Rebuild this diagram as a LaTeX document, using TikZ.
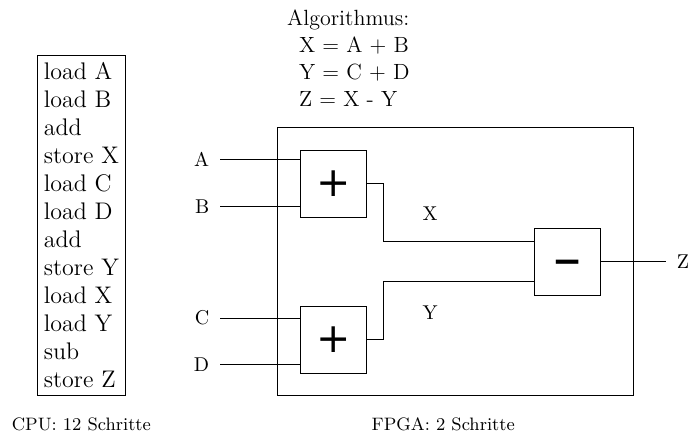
\documentclass[tikz,border=0pt]{standalone}
\usepackage{fontspec}
\newfontfamily\gatefont{DejaVu Sans}
\usetikzlibrary{positioning}

\begin{document}
\begin{tikzpicture}[
    every node/.style={font=\normalsize},
    progbox/.style={rectangle, draw, align=left, inner xsep=3pt, minimum height=5.99cm, font=\large},
    chip/.style={rectangle, draw, minimum width=6.26cm, minimum height=4.71cm},
    gate/.style={rectangle, draw, minimum width=1.17cm, minimum height=1.17cm, inner sep=0pt, font=\gatefont\fontsize{20.5}{22}\selectfont},
    algo/.style={align=left, inner sep=0pt, font=\fontsize{11}{13.5}\selectfont},
    signal/.style={inner sep=3.3pt},
    caption/.style={font=\small},
    wire/.style={thin}
]

\useasboundingbox (0,0) rectangle (12.18,-7.71);

% ============ TOP: Algorithm ============
\node[algo, anchor=north west] (algorithm) at (5.04,-0.16) {Algorithmus:\\
    \hspace*{6pt}X = A + B\\
    \hspace*{6pt}Y = C + D\\
    \hspace*{6pt}Z = X - Y};

% ============ LEFT: CPU program ============
\node[progbox] (cpu) at (1.43,-3.96) {load A\\load B\\add\\store X\\load C\\load D\\add\\store Y\\load X\\load Y\\sub\\store Z};
\node[caption] (cpucap) at (1.43,-7.45) {CPU: 12 Schritte};

% ============ RIGHT: FPGA ============
\node[chip] (fpga) at (8.01,-4.59) {};
\node[caption] (fpgacap) at (7.79,-7.45) {FPGA: 2 Schritte};

\node[gate] (add1) at (5.86,-3.23) {+};
\node[gate] (add2) at (5.86,-5.97) {+};
\node[gate, font=\gatefont\bfseries\fontsize{18}{20}\selectfont, text height=1.2em, text depth=-0.05em] (sub) at (9.97,-4.60) {−};

% Inputs
\coordinate (inA) at (3.87,-2.80);
\coordinate (inB) at (3.87,-3.63);
\coordinate (inC) at (3.87,-5.59);
\coordinate (inD) at (3.87,-6.41);

\node[signal, left=2pt of inA] (A) {A};
\node[signal, left=2pt of inB] (B) {B};
\node[signal, left=2pt of inC] (C) {C};
\node[signal, left=2pt of inD] (D) {D};

% Output
\coordinate (outZ) at ([xshift=1.14cm]sub.east);
\node[signal, right=2pt of outZ] (Z) {Z};

% Intermediate results
\node (labX) at (7.56,-3.76) {X};
\node (labY) at (7.56,-5.50) {Y};

% ============ WIRES ============
\draw[wire] (inA) -- (inA -| add1.west);
\draw[wire] (inB) -- (inB -| add1.west);
\draw[wire] (inC) -- (inC -| add2.west);
\draw[wire] (inD) -- (inD -| add2.west);

\draw[wire] (add1.east) -- ++(0.29,0) |- ([yshift=0.35cm]sub.west);
\draw[wire] (add2.east) -- ++(0.29,0) |- ([yshift=-0.35cm]sub.west);
\draw[wire] (sub.east) -- (outZ);

\end{tikzpicture}
\end{document}
